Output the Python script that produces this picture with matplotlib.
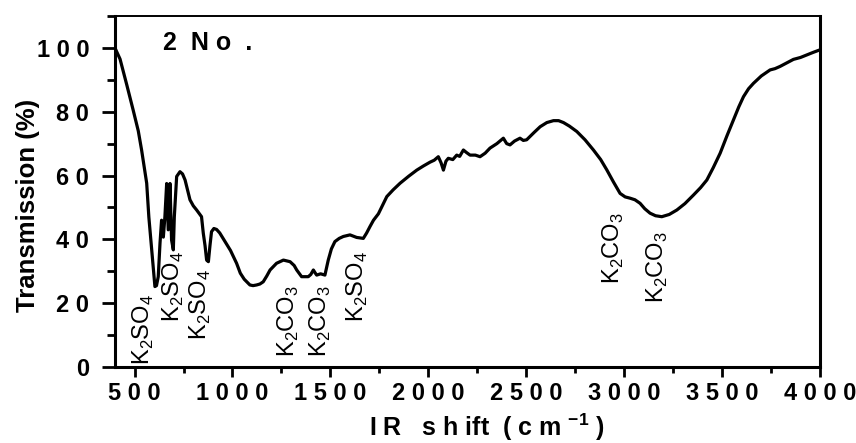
#!/usr/bin/env python3
"""IR transmission spectrum of sample '2 No.' with K2SO4 / K2CO3 band labels."""

import matplotlib
matplotlib.use("Agg")
import matplotlib.pyplot as plt
from matplotlib.ticker import MultipleLocator, FuncFormatter

plt.rcParams["font.family"] = ["Liberation Sans", "DejaVu Sans"]
plt.rcParams["mathtext.fontset"] = "custom"
plt.rcParams["mathtext.rm"] = "Liberation Sans"
plt.rcParams["mathtext.bf"] = "Liberation Sans:bold"

# spectrum (wavenumber cm-1, transmission %)
wavenumber = [400, 426, 460, 493, 519, 536, 562, 573, 590, 604, 612, 621, 630, 638, 647,
              655, 664, 672, 681, 689, 698, 703, 715, 732, 745, 758, 783, 800, 817,
              842, 851, 860, 868, 877, 885, 893, 905, 919, 935, 950, 970, 990, 1021,
              1040, 1060, 1089, 1105, 1123, 1140, 1157, 1175, 1192, 1225, 1260, 1294,
              1315, 1328, 1353, 1387, 1400, 1413, 1422, 1430, 1450, 1472, 1489, 1505,
              1523, 1545, 1566, 1600, 1634, 1668, 1685, 1702, 1720, 1745, 1765, 1788,
              1820, 1856, 1900, 1941, 1975, 2009, 2030, 2051, 2065, 2077, 2090, 2102,
              2125, 2145, 2160, 2179, 2195, 2213, 2240, 2264, 2290, 2315, 2350, 2383,
              2400, 2417, 2440, 2468, 2485, 2502, 2540, 2571, 2605, 2639, 2665, 2690,
              2720, 2758, 2800, 2843, 2880, 2911, 2945, 2979, 3005, 3030, 3055, 3081,
              3105, 3132, 3160, 3192, 3230, 3269, 3310, 3354, 3390, 3422, 3455, 3490,
              3525, 3558, 3585, 3609, 3635, 3660, 3700, 3745, 3770, 3796, 3830, 3864,
              3900, 3932, 3965, 4000]
transmission = [100.0, 96.5, 88.5, 80.5, 74.0, 68.0, 57.6, 47.0, 35.0, 25.2, 25.5, 28.3,
                38.8, 46.0, 40.7, 47.1, 57.5, 43.0, 57.5, 39.8, 36.7, 47.0, 59.7, 61.2,
                60.5, 58.6, 52.4, 50.5, 49.2, 47.1, 41.9, 38.0, 33.5, 33.0, 38.0, 42.4,
                43.4, 43.1, 42.0, 40.5, 38.5, 36.5, 32.5, 29.4, 27.5, 25.7, 25.5, 25.7,
                26.0, 26.7, 28.5, 30.4, 32.5, 33.5, 33.0, 31.8, 30.4, 28.3, 28.3, 29.0,
                30.4, 29.5, 28.8, 29.2, 28.8, 33.5, 37.0, 39.3, 40.3, 40.9, 41.4, 40.6,
                40.3, 42.0, 44.0, 46.0, 48.0, 50.5, 53.4, 55.5, 57.6, 59.8, 61.7, 63.0,
                64.2, 64.8, 65.9, 64.0, 61.7, 64.5, 65.4, 65.0, 66.4, 66.0, 68.0, 67.2,
                66.4, 66.4, 65.9, 67.0, 68.6, 70.0, 71.7, 70.0, 69.6, 70.8, 71.7, 71.0,
                71.2, 73.5, 75.3, 76.6, 77.2, 77.2, 76.6, 75.5, 73.8, 71.2, 68.0, 65.0,
                61.8, 58.0, 54.4, 53.3, 52.9, 52.4, 51.3, 49.6, 48.2, 47.4, 47.1, 47.8,
                49.2, 51.2, 53.9, 56.2, 58.6, 62.5, 67.0, 72.5, 77.4, 81.5, 84.7, 87.2,
                88.9, 91.2, 93.1, 93.5, 94.2, 95.3, 96.4, 97.0, 97.8, 98.6, 99.4]

# band assignments: label, x position (cm-1), bottom of label (%)
band_labels = [r"K$_2$SO$_4$", r"K$_2$SO$_4$", r"K$_2$SO$_4$", r"K$_2$CO$_3$",
               r"K$_2$CO$_3$", r"K$_2$SO$_4$", r"K$_2$CO$_3$", r"K$_2$CO$_3$"]
band_x = [543, 696, 834, 1283, 1447, 1640, 2944, 3168]
band_y = [0.5, 14, 8.5, 3, 3, 14, 26, 20]

sample_name = "2  N o  ."
x_ticks = [500, 1000, 1500, 2000, 2500, 3000, 3500, 4000]
y_ticks = [0, 20, 40, 60, 80, 100]


def spaced(v, pos=None):
    return " ".join(str(int(round(v))))


fig = plt.figure(figsize=(8.56, 4.43), dpi=100)
ax = fig.add_axes([0.1343, 0.1716, 0.8237, 0.7923])

ax.plot(wavenumber, transmission, color="black", lw=2.3, solid_joinstyle="round")

for lab, bx, by in zip(band_labels, band_x, band_y):
    ax.text(bx, by, lab, rotation=90, ha="center", va="bottom", fontsize=17)

ax.text(645, 99.4, sample_name, fontsize=18, fontweight="bold", ha="left", va="baseline")

ax.set_xlim(400, 4000)
ax.set_ylim(0, 110)
ax.set_xticks(x_ticks)
ax.set_yticks(y_ticks)
ax.xaxis.set_minor_locator(MultipleLocator(250))
ax.yaxis.set_minor_locator(MultipleLocator(10))
ax.xaxis.set_major_formatter(FuncFormatter(spaced))
ax.yaxis.set_major_formatter(FuncFormatter(spaced))

ax.tick_params(axis="both", which="both", direction="out", top=False, right=False,
               width=2, labelsize=17)
ax.tick_params(axis="x", which="major", length=7, pad=4)
ax.tick_params(axis="x", which="minor", length=4)
ax.tick_params(axis="y", which="major", length=9.5, pad=9)
ax.tick_params(axis="y", which="minor", length=5.5)
for lab in ax.get_xticklabels() + ax.get_yticklabels():
    lab.set_fontweight("bold")

for side in ["left", "bottom", "right"]:
    ax.spines[side].set_linewidth(2.2)
ax.spines["top"].set_linewidth(1.4)

ax.set_ylabel("Transmission (%)", fontsize=18.5, fontweight="bold")
ax.yaxis.set_label_coords(-0.107, 0.46)
ax.set_xlabel(r"I R   s h ift  ( c m $^{\mathbf{-1}}$ )", fontsize=18,
              fontweight="bold")
ax.xaxis.set_label_coords(0.528, -0.126)

fig.savefig("out.png", dpi=100)
